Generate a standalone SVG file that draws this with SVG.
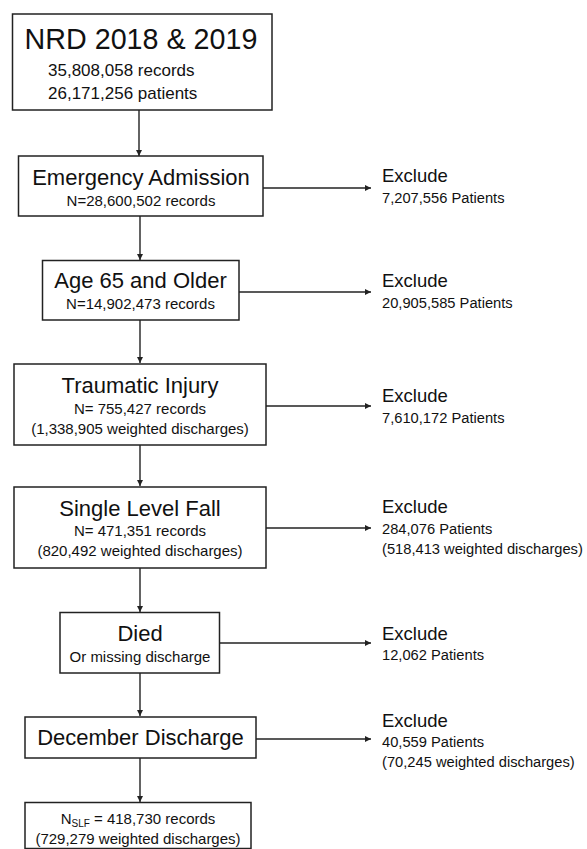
<svg xmlns="http://www.w3.org/2000/svg" width="587" height="849" viewBox="0 0 587 849">
<style>
.box{fill:#fff;stroke:#222;stroke-width:1.5}
text{font-family:"Liberation Sans",Arial,sans-serif;fill:#111}
.t{font-size:22px;text-anchor:middle}
.s{font-size:15px;text-anchor:middle}
.ex{font-size:18.5px}
.ed{font-size:14.7px}
.c line{stroke:#222;stroke-width:1.4;marker-end:url(#ah)}
</style>
<defs>
<marker id="ah" viewBox="0 0 8 8" refX="8" refY="4" markerWidth="6" markerHeight="6" markerUnits="userSpaceOnUse" orient="auto">
<path d="M0,0 L8,4 L0,8 z" fill="#222"/>
</marker>
</defs>
<rect width="587" height="849" fill="#fff"/>
<g class="c" id="connectors">
<line x1="139" y1="110" x2="139" y2="156"/>
<line x1="140" y1="216" x2="140" y2="260"/>
<line x1="140" y1="320" x2="140" y2="363"/>
<line x1="140" y1="445" x2="140" y2="486"/>
<line x1="140" y1="568" x2="140" y2="612"/>
<line x1="140" y1="673" x2="140" y2="716"/>
<line x1="140" y1="758" x2="140" y2="802"/>
<line x1="263" y1="188" x2="371" y2="188"/>
<line x1="239" y1="292" x2="371" y2="292"/>
<line x1="266" y1="406" x2="371" y2="406"/>
<line x1="266" y1="528" x2="371" y2="528"/>
<line x1="220" y1="643" x2="371" y2="643"/>
<line x1="256" y1="739" x2="371" y2="739"/>
</g>
<g id="nrd">
<rect class="box" x="12.5" y="14" width="259.5" height="96"/>
<text x="141" y="49" style="font-size:28.7px;text-anchor:middle">NRD 2018 &amp; 2019</text>
<text x="48" y="76" style="font-size:17px">35,808,058 records</text>
<text x="48" y="99" style="font-size:17px">26,171,256 patients</text>
</g>
<g id="emergency">
<rect class="box" x="18.5" y="156" width="244.5" height="60"/>
<text class="t" x="141" y="185">Emergency Admission</text>
<text class="s" x="141" y="206">N=28,600,502 records</text>
</g>
<g id="age">
<rect class="box" x="42.5" y="260.5" width="196.5" height="59.5"/>
<text class="t" x="140.5" y="288">Age 65 and Older</text>
<text class="s" x="140.5" y="309">N=14,902,473 records</text>
</g>
<g id="trauma">
<rect class="box" x="14" y="364" width="252" height="81"/>
<text class="t" x="140" y="393">Traumatic Injury</text>
<text class="s" x="140" y="414">N= 755,427 records</text>
<text class="s" x="140" y="434">(1,338,905 weighted discharges)</text>
</g>
<g id="slf">
<rect class="box" x="14" y="487" width="252" height="81"/>
<text class="t" x="140" y="515.5">Single Level Fall</text>
<text class="s" x="140" y="536">N= 471,351 records</text>
<text class="s" x="140" y="556">(820,492 weighted discharges)</text>
</g>
<g id="died">
<rect class="box" x="60" y="612.5" width="159.5" height="60.5"/>
<text class="t" x="140" y="641">Died</text>
<text class="s" x="140" y="661.5">Or missing discharge</text>
</g>
<g id="december">
<rect class="box" x="25" y="717" width="231" height="41"/>
<text class="t" x="140.5" y="745">December Discharge</text>
</g>
<g id="final">
<rect class="box" x="25" y="802.5" width="226" height="46"/>
<text class="s" x="138" y="823.5">N<tspan style="font-size:10px" dy="3">SLF</tspan><tspan dy="-3"> = 418,730 records</tspan></text>
<text class="s" x="138" y="843.5">(729,279 weighted discharges)</text>
</g>
<g id="ex1">
<text class="ex" x="382" y="182">Exclude</text>
<text class="ed" x="382" y="203">7,207,556 Patients</text>
</g>
<g id="ex2">
<text class="ex" x="382" y="287">Exclude</text>
<text class="ed" x="382" y="308">20,905,585 Patients</text>
</g>
<g id="ex3">
<text class="ex" x="382" y="402">Exclude</text>
<text class="ed" x="382" y="422.5">7,610,172 Patients</text>
</g>
<g id="ex4">
<text class="ex" x="382" y="513">Exclude</text>
<text class="ed" x="382" y="534">284,076 Patients</text>
<text class="ed" x="382" y="554">(518,413 weighted discharges)</text>
</g>
<g id="ex5">
<text class="ex" x="382" y="640">Exclude</text>
<text class="ed" x="382" y="660">12,062 Patients</text>
</g>
<g id="ex6">
<text class="ex" x="382" y="727">Exclude</text>
<text class="ed" x="382" y="747">40,559 Patients</text>
<text class="ed" x="382" y="766.5">(70,245 weighted discharges)</text>
</g>
</svg>
